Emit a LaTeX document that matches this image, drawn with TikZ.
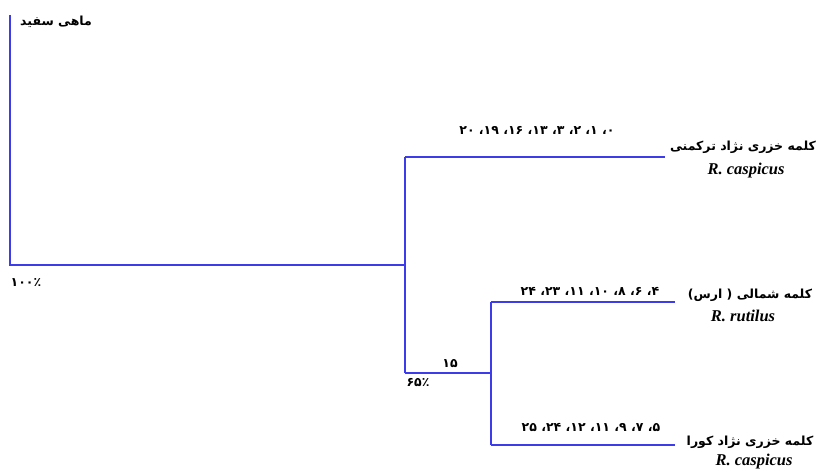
\documentclass[tikz,border=0pt]{standalone}
\usepackage{fontspec}
\setmainfont{Liberation Serif}
\newfontfamily\fa[Script=Arabic]{DejaVu Sans}
\TeXXeTstate=1
\begin{document}
\begin{tikzpicture}[x=1pt,y=-1pt,
  edge/.style={draw={rgb,255:red,60;green,60;blue,235},line width=1.4pt},
  fatxt/.style={inner sep=0pt,font=\fa\bfseries\fontsize{12.5}{14}\selectfont},
  latxt/.style={inner sep=0pt,font=\bfseries\itshape\fontsize{16.5}{18}\selectfont}]
\useasboundingbox (0,0) rectangle (818,470);
% tree coordinates
\coordinate (top) at (10,15);
\coordinate (rb) at (10,265);
\coordinate (j1) at (405,265);
\coordinate (a1) at (405,157);
\coordinate (a2) at (405,373);
\coordinate (e1) at (665,157);
\coordinate (j2) at (491,373);
\coordinate (b1) at (491,302);
\coordinate (b2) at (491,445);
\coordinate (e2) at (675,302);
\coordinate (e3) at (675,445);
\draw[edge] (top) -- (rb) -- (j1);
\draw[edge] (a1) -- (a2);
\draw[edge] (a1) -- (e1);
\draw[edge] (a2) -- (j2);
\draw[edge] (b1) -- (b2);
\draw[edge] (b1) -- (e2);
\draw[edge] (b2) -- (e3);
% labels
\node[fatxt,anchor=west] (root) at (20,22) {\beginR ماهی سفید\endR};
\node[fatxt] (n1) at (537,130) {\beginR ۰، ۱، ۲، ۳، ۱۳، ۱۶، ۱۹، ۲۰\endR};
\node[fatxt] (s1) at (743,147) {\beginR کلمه خزری نژاد ترکمنی\endR};
\node[latxt] (l1) at (746,171) {R. caspicus};
\node[fatxt] (n2) at (590,291) {\beginR ۴، ۶، ۸، ۱۰، ۱۱، ۲۳، ۲۴\endR};
\node[fatxt] (s2) at (750,295) {\beginR کلمه شمالی ( ارس)\endR};
\node[latxt] (l2) at (743,316) {R. rutilus};
\node[fatxt] (n3) at (591,427) {\beginR ۵، ۷، ۹، ۱۱، ۱۲، ۲۴، ۲۵\endR};
\node[fatxt] (s3) at (750,442) {\beginR کلمه خزری نژاد کورا\endR};
\node[latxt] (l3) at (754,462) {R. caspicus};
\node[fatxt] (k15) at (450,364) {\beginR ۱۵\endR};
\node[fatxt] (p65) at (418,383) {\beginR ۶۵٪\endR};
\node[fatxt] (p100) at (26,283) {\beginR ۱۰۰٪\endR};
\end{tikzpicture}
\end{document}
